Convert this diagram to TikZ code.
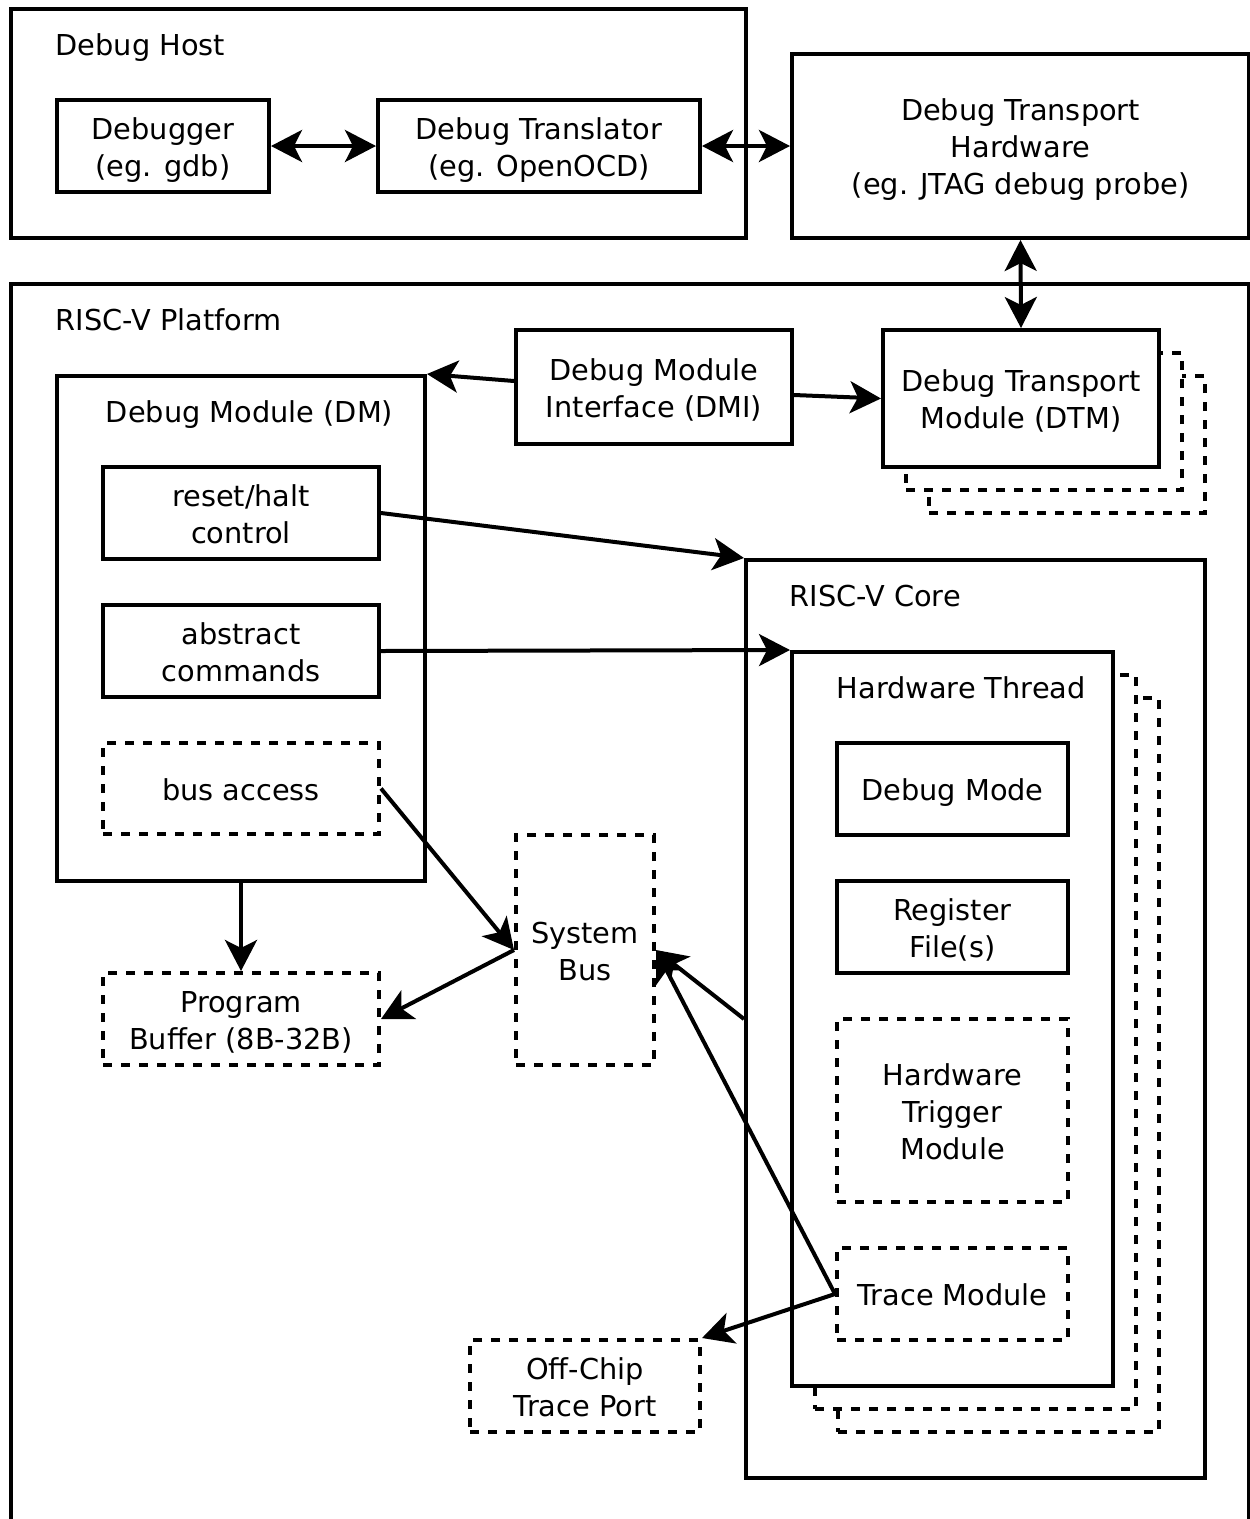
\documentclass[tikz,border=0pt]{standalone}
\usepackage{fontspec}
\setmainfont{DejaVu Sans}
\usetikzlibrary{arrows.meta}
\newcommand\fs{\rule[-6pt]{0pt}{35pt}}
\begin{document}
\begin{tikzpicture}[x=1pt,y=-1pt,
  box/.style={draw, line width=4pt, fill=white, align=center, inner sep=0pt},
  dbox/.style={box, dash pattern=on 9pt off 9pt},
  arr/.style={line width=4pt, -{Stealth[length=31pt,width=32pt,inset=8pt]}},
  darr/.style={line width=4pt, {Stealth[length=31pt,width=32pt,inset=8pt]}-{Stealth[length=31pt,width=32pt,inset=8pt]}},
  lbl/.style={inner sep=0pt},
  font=\fontsize{28.8}{37}\selectfont]
\useasboundingbox (0,0) rectangle (1250,1519);
\clip (0,0) rectangle (1250,1519);
% Debug host
\node[box, minimum width=735pt, minimum height=229pt] (host) at (378.5,123.5) {};
\node[lbl, anchor=base west] (hostlbl) at (55.5,55) {Debug Host};
\node[box, minimum width=212pt, minimum height=92pt] (dbg) at (163,146) {\fs Debugger\\(eg. gdb)\fs};
\node[box, minimum width=322pt, minimum height=92pt] (trans) at (539,146) {\fs Debug Translator\\(eg. OpenOCD)\fs};
\node[box, minimum width=457pt, minimum height=184pt] (dth) at (1020.5,146) {\fs Debug Transport\\Hardware\\(eg. JTAG debug probe)\fs};
% Platform
\node[box, minimum width=1238pt, minimum height=1300pt] (plat) at (630,934) {};
\node[lbl, anchor=base west] (platlbl) at (55.5,330) {RISC-V Platform};
\node[box, minimum width=276pt, minimum height=114pt] (dmi) at (654,387) {\fs Debug Module\\Interface (DMI)\fs};
\node[dbox, minimum width=276pt, minimum height=137pt] (dtmc) at (1067,444.5) {};
\node[dbox, minimum width=276pt, minimum height=137pt] (dtmb) at (1044,421.5) {};
\node[box, minimum width=276pt, minimum height=137pt] (dtm) at (1021,398.5) {\fs Debug Transport\\Module (DTM)\fs};
% Debug module
\node[box, minimum width=368pt, minimum height=505pt] (dm) at (241,628.5) {};
\node[lbl, anchor=base] (dmlbl) at (249.5,422) {Debug Module (DM)};
\node[box, minimum width=276pt, minimum height=92pt] (reset) at (241,513) {\fs reset/halt\\control\fs};
\node[box, minimum width=276pt, minimum height=92pt] (abs) at (241,651) {\fs abstract\\commands\fs};
\node[dbox, minimum width=276pt, minimum height=91pt] (bus) at (241,788.5) {\fs bus access\fs};
\node[dbox, minimum width=276pt, minimum height=92pt] (pbuf) at (241,1019) {\fs Program\\Buffer (8B-32B)\fs};
\node[dbox, minimum width=138pt, minimum height=230pt] (sbus) at (585,950) {\fs System\\Bus\fs};
\node[dbox, minimum width=230pt, minimum height=92pt] (ocp) at (585,1386) {\fs Off-Chip\\Trace Port\fs};
% Core
\node[box, minimum width=459pt, minimum height=918pt] (core) at (975.5,1019) {};
\node[lbl, anchor=base west] (corelbl) at (789.5,606) {RISC-V Core};
\node[dbox, minimum width=321pt, minimum height=734pt] (hwtc) at (998.5,1065) {};
\node[dbox, minimum width=321pt, minimum height=734pt] (hwtb) at (975.5,1042) {};
\node[box, minimum width=321pt, minimum height=734pt] (hwt) at (952.5,1019) {};
\node[lbl, anchor=base west] (hwtlbl) at (836.5,698) {Hardware Thread};
\node[box, minimum width=231pt, minimum height=92pt] (dmode) at (952.5,789) {\fs Debug Mode\fs};
\node[box, minimum width=231pt, minimum height=92pt] (regf) at (952.5,927) {\fs Register\\File(s)\fs};
\node[dbox, minimum width=231pt, minimum height=183pt] (trig) at (952.5,1110.5) {\fs Hardware\\Trigger\\Module\fs};
\node[dbox, minimum width=231pt, minimum height=92pt] (trace) at (952.5,1294) {\fs Trace Module\fs};
% Connectors
\draw[darr] (dbg.east) -- (trans.west);
\draw[darr] (trans.east) -- (dth.west);
\draw[darr] (dth.south) -- (dtm.north);
\draw[arr] ([yshift=6pt]dmi.west) -- (dm.north east);
\draw[arr] ([yshift=-8pt]dmi.east) -- (dtm.west);
\draw[arr] (reset.east) -- (core.north west);
\draw[arr] (abs.east) -- (hwt.north west);
\draw[arr] (bus.east) -- (sbus.west);
\draw[arr] (sbus.west) -- (pbuf.east);
\draw[arr] (dm.south) -- (pbuf.north);
\draw[arr] (core.west) -- (sbus.east);
\draw[arr] (trace.west) -- (sbus.east);
\draw[arr] (trace.west) -- (ocp.north east);
\end{tikzpicture}
\end{document}
